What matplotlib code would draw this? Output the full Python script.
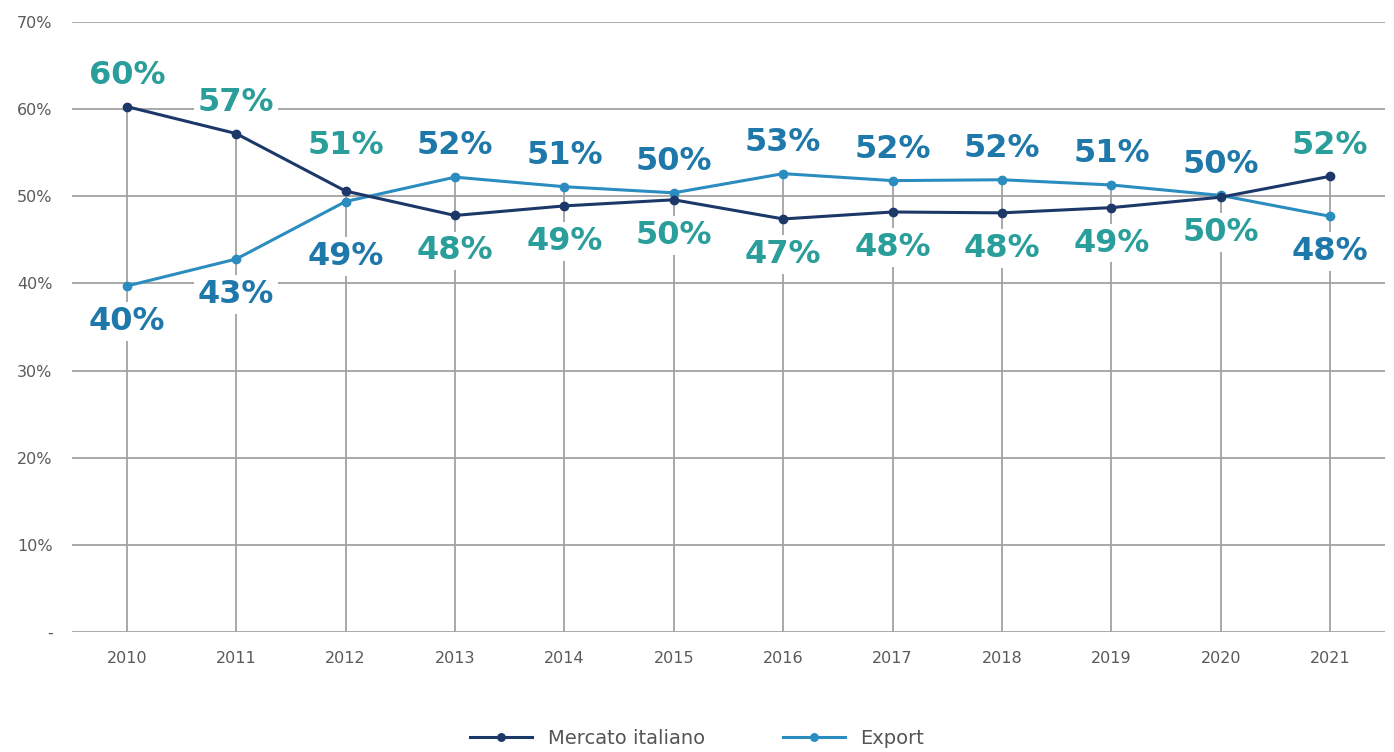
import numpy as np
import matplotlib
matplotlib.use("Agg")
import matplotlib.pyplot as plt

# ── Dati ─────────────────────────────────────────────────────────
anni = ["2010", "2011", "2012", "2013", "2014", "2015",
        "2016", "2017", "2018", "2019", "2020", "2021"]
mercato = [60.3, 57.2, 50.6, 47.8, 48.9, 49.6, 47.4, 48.2, 48.1, 48.7, 49.9, 52.3]
export = [39.7, 42.8, 49.4, 52.2, 51.1, 50.4, 52.6, 51.8, 51.9, 51.3, 50.1, 47.7]
etich_mercato = ["60%", "57%", "51%", "48%", "49%", "50%",
                 "47%", "48%", "48%", "49%", "50%", "52%"]
etich_export = ["40%", "43%", "49%", "52%", "51%", "50%",
                "53%", "52%", "52%", "51%", "50%", "48%"]
y_ticks = [0, 10, 20, 30, 40, 50, 60, 70]
y_labels = ["-", "10%", "20%", "30%", "40%", "50%", "60%", "70%"]

COL_MERC = "#1c3869"
COL_EXP = "#2a8cbf"
COL_LAB_MERC = "#2a9e9b"
COL_LAB_EXP = "#1f78aa"
GRID = "#a3a3a3"

x = np.arange(len(anni))

fig = plt.figure(figsize=(13.94, 7.52), dpi=100)
ax = fig.add_axes([0.0517, 0.1596, 0.9418, 0.8111])

# griglia orizzontale
for t in y_ticks:
    ax.axhline(t, color=GRID, lw=1.3, zorder=0)

# linee verticali dal punto più alto fino a zero
top = np.maximum(mercato, export)
ax.vlines(x, 0, top, color=GRID, lw=1.3, zorder=0)

ax.plot(x, mercato, color=COL_MERC, lw=2.2, marker="o", ms=6, zorder=4,
        label="Mercato italiano")
ax.plot(x, export, color=COL_EXP, lw=2.2, marker="o", ms=6, zorder=3,
        label="Export")

# etichette: valore più alto sopra, più basso sotto
for i in range(len(x)):
    for val, txt, col, other in ((mercato[i], etich_mercato[i], COL_LAB_MERC, export[i]),
                                 (export[i], etich_export[i], COL_LAB_EXP, mercato[i])):
        if val >= other:
            off = 32.5 if i == 2 else 22.5   # 2012: allontanate dalle linee
        else:
            off = -39.5 if i == 2 else -25.5
        ax.annotate(txt, (x[i], val), xytext=(0, off), textcoords="offset points",
                    ha="center", va="center", fontsize=23, fontweight="bold",
                    color=col, zorder=5,
                    bbox=dict(boxstyle="square,pad=0.12", fc="white", ec="none"))

ax.set_xlim(-0.5, 11.5)
ax.set_ylim(0, 70)
ax.set_xticks(x)
ax.set_xticklabels(anni)
ax.set_yticks(y_ticks)
ax.set_yticklabels(y_labels)
ax.tick_params(length=0, labelsize=11.5, colors="#5a5a5a", pad=14)
ax.tick_params(axis="y", pad=14)
for s in ax.spines.values():
    s.set_visible(False)

fig.legend(loc="center", bbox_to_anchor=(0.5, 0.018), ncol=2, frameon=False,
           fontsize=14, labelcolor="#555555", handlelength=3.2,
           columnspacing=4, markerscale=0.9)

fig.savefig("out.png", dpi=100)
